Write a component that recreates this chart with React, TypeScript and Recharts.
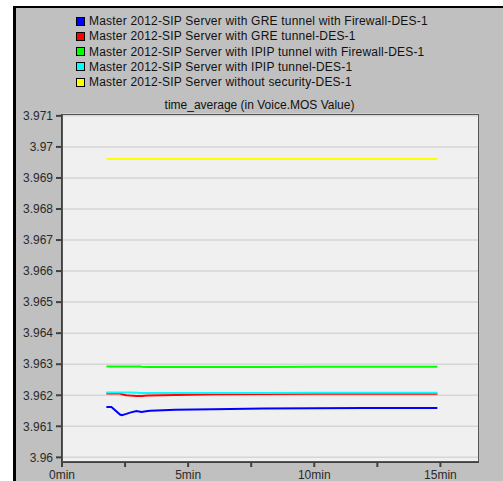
import React from "react";
import { LineChart, Line, XAxis, YAxis, CartesianGrid } from "recharts";

const seriesNames = [
  "Master 2012-SIP Server with GRE tunnel with Firewall-DES-1",
  "Master 2012-SIP Server with GRE tunnel-DES-1",
  "Master 2012-SIP Server with IPIP tunnel with Firewall-DES-1",
  "Master 2012-SIP Server with IPIP tunnel-DES-1",
  "Master 2012-SIP Server without security-DES-1",
];
const seriesColors = ["#0000ff", "#ff0000", "#00ff00", "#00ffff", "#ffff00"];
const seriesKeys = ["greFw", "gre", "ipipFw", "ipip", "none"];

// time in minutes
const timeMin = [1.76, 1.96, 2.3, 2.37, 2.55, 2.7, 2.95, 3.1, 3.15, 3.4, 3.5, 4.5, 6, 8, 10, 12, 14.88];

const greFw = [3.96162, 3.96162, 3.96138, 3.96136, 3.9614, 3.96144, 3.96149, 3.96147, 3.96146, 3.96149, 3.9615, 3.96153, 3.96155, 3.96157, 3.96158, 3.96159, 3.96159];
const gre = [3.96206, 3.96206, 3.96206, 3.96203, 3.962, 3.96199, 3.96198, 3.96198, 3.96198, 3.96199, 3.96199, 3.96201, 3.96203, 3.96204, 3.96205, 3.96205, 3.96205];
const ipipFw = [3.96293, 3.96293, 3.96293, 3.96293, 3.96293, 3.96293, 3.96293, 3.96293, 3.96292, 3.96291, 3.96291, 3.96291, 3.96291, 3.96291, 3.96292, 3.96292, 3.96292];
const ipip = [3.96209, 3.96209, 3.96209, 3.96209, 3.96209, 3.96209, 3.96208, 3.96207, 3.96207, 3.96207, 3.96207, 3.96207, 3.96207, 3.96207, 3.96208, 3.96208, 3.96208];
const noSec = [3.96961, 3.96961, 3.96961, 3.96961, 3.96961, 3.96961, 3.96961, 3.96961, 3.96961, 3.96961, 3.96961, 3.96961, 3.96961, 3.96961, 3.96961, 3.96961, 3.96961];

const yTicks = [3.96, 3.961, 3.962, 3.963, 3.964, 3.965, 3.966, 3.967, 3.968, 3.969, 3.97, 3.971];
const xTicks = [0, 2.5, 5, 7.5, 10, 12.5, 15];
const xLabels: Record<string, string> = { "0": "0min", "5": "5min", "10": "10min", "15": "15min" };

const chartTitle = "time_average (in Voice.MOS Value)";

const data = timeMin.map((t, i) => ({
  t,
  greFw: greFw[i],
  gre: gre[i],
  ipipFw: ipipFw[i],
  ipip: ipip[i],
  none: noSec[i],
}));

const font = "'Liberation Sans', Arial, sans-serif";

export default function App() {
  return (
    <div style={{ position: "absolute", left: 0, top: 0, width: 503, height: 481, background: "#ffffff", overflow: "hidden", fontFamily: font }}>
      <div style={{ position: "absolute", left: 13, top: 6, width: 490, height: 475, background: "#c0c0c0", borderLeft: "3px solid #000", borderTop: "2px solid #000", boxSizing: "border-box" }} />
      <div style={{ position: "absolute", left: 0, top: 0 }}>
        <LineChart width={503} height={481} data={data} margin={{ top: 114, right: 24, bottom: 0, left: 12 }}>
          <CartesianGrid fill="#f0f0f0" vertical={false} stroke="#d6d6d6" strokeWidth={1.5} />
          <XAxis
            dataKey="t"
            type="number"
            domain={[0, 16.53]}
            ticks={xTicks}
            allowDataOverflow
            height={19}
            tickSize={5}
            tickMargin={3}
            interval={0}
            tickFormatter={(v: number) => xLabels[String(v)] ?? ""}
            stroke="#404040"
            strokeWidth={2}
            tick={{ fill: "#2a2a2a", fontSize: 12, fontFamily: font }}
          />
          <YAxis
            type="number"
            domain={[3.95985, 3.97106]}
            ticks={yTicks}
            allowDataOverflow
            width={50}
            tickSize={6}
            tickMargin={3}
            interval={0}
            tickFormatter={(v: number) => String(Number(v.toFixed(3)))}
            stroke="#404040"
            strokeWidth={2}
            tick={{ fill: "#2a2a2a", fontSize: 12, fontFamily: font }}
          />
          {seriesKeys.map((k, i) => (
            <Line key={k} type="linear" dataKey={k} stroke={seriesColors[i]} strokeWidth={2} dot={false} isAnimationActive={false} />
          ))}
        </LineChart>
      </div>
      <div style={{ position: "absolute", left: 62, top: 114, width: 417, height: 348, border: "1px solid #555", boxSizing: "border-box", pointerEvents: "none" }} />
      {seriesNames.map((n, i) => (
        <div key={n} style={{ position: "absolute", left: 76, top: 13.5 + i * 15.25, height: 15, display: "flex", alignItems: "center", fontSize: 12, color: "#111", whiteSpace: "nowrap", letterSpacing: 0.2 }}>
          <span style={{ display: "inline-block", width: 7, height: 7, border: "1px solid #000", background: seriesColors[i], marginRight: 4 }} />
          <span>{n}</span>
        </div>
      ))}
      <div style={{ position: "absolute", left: 59.5, width: 400, top: 98, textAlign: "center", fontSize: 12, color: "#111" }}>{chartTitle}</div>
    </div>
  );
}
